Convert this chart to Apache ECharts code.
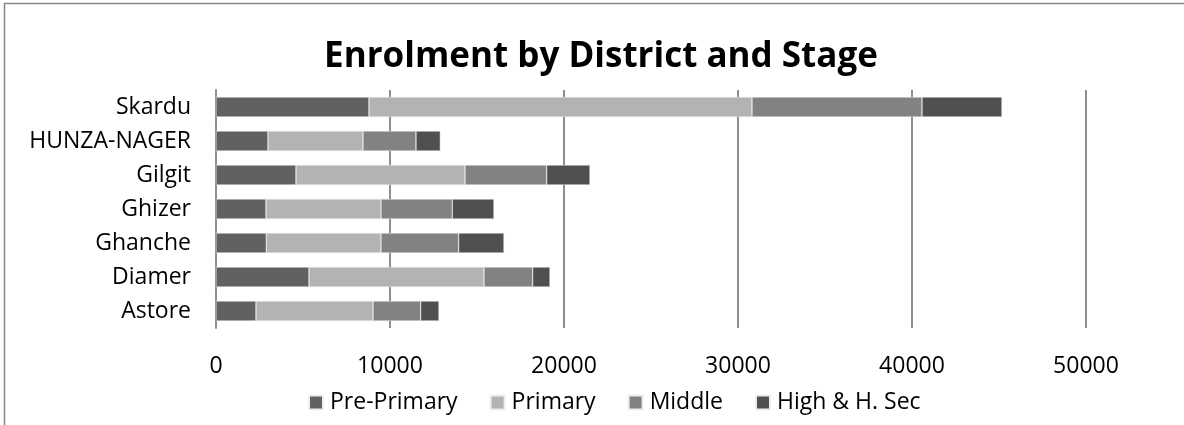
<!DOCTYPE html>
<html>
<head>
<meta charset="utf-8">
<script src="https://cdn.jsdelivr.net/npm/echarts@6/dist/echarts.min.js"></script>
<style>html,body{margin:0;padding:0;background:#fff}#c{width:1184px;height:425px}</style>
</head>
<body>
<div id="c"></div>
<script>
const districts = ['Astore', 'Diamer', 'Ghanche', 'Ghizer', 'Gilgit', 'HUNZA-NAGER', 'Skardu'];
const prePrimary = [2299, 5345, 2893, 2874, 4598, 2989, 8793];
const primary    = [6724, 10057, 6590, 6609, 9712, 5459, 22012];
const middle     = [2739, 2797, 4463, 4099, 4694, 3046, 9770];
const highSec    = [1054, 996, 2606, 2395, 2490, 1399, 4597];
const seriesNames = ['Pre-Primary', 'Primary', 'Middle', 'High & H. Sec'];
const xTicks = [0, 10000, 20000, 30000, 40000, 50000];

const FONT = 'Open Sans';
const colors = ['#616161', '#b3b3b3', '#828282', '#505050'];
const values = [prePrimary, primary, middle, highSec];

const chart = echarts.init(document.getElementById('c'), null, {renderer: 'canvas'});
chart.setOption({
  animation: false,
  backgroundColor: '#fff',
  title: {
    text: 'Enrolment by District and Stage',
    left: 596, top: 35, textAlign: 'center',
    textStyle: {fontFamily: FONT, fontSize: 35, fontWeight: 'bold', color: '#000'}
  },
  graphic: [{
    type: 'rect', shape: {x: 4.5, y: 3.5, width: 1300, height: 600},
    style: {fill: 'none', stroke: '#888', lineWidth: 1.5}, silent: true, z: -1
  }],
  legend: {
    data: seriesNames,
    left: 308, top: 391, padding: 0,
    itemWidth: 14, itemHeight: 14, itemGap: 32,
    icon: 'rect',
    textStyle: {fontFamily: FONT, fontSize: 23, color: '#000', padding: [0, 0, 0, 2]}
  },
  grid: {left: 216, right: 98, top: 90, bottom: 97, containLabel: false},
  xAxis: {
    type: 'value', min: xTicks[0], max: xTicks[xTicks.length - 1], interval: 10000,
    axisLine: {show: false}, axisTick: {show: false},
    splitLine: {show: true, lineStyle: {color: '#8e8e8e', width: 2}},
    axisLabel: {fontFamily: FONT, fontSize: 23, color: '#000', margin: 27,
      formatter: v => String(v)}
  },
  yAxis: {
    type: 'category', data: districts,
    axisLine: {show: true, lineStyle: {color: '#8e8e8e', width: 2}},
    axisTick: {show: false},
    axisLabel: {fontFamily: FONT, fontSize: 23, color: '#000', margin: 25}
  },
  series: seriesNames.map((n, i) => ({
    name: n, type: 'bar', stack: 'total', data: values[i], barWidth: 20,
    itemStyle: {color: colors[i], borderColor: '#eeeeee', borderWidth: 0.5}
  }))
});
</script>
</body>
</html>
